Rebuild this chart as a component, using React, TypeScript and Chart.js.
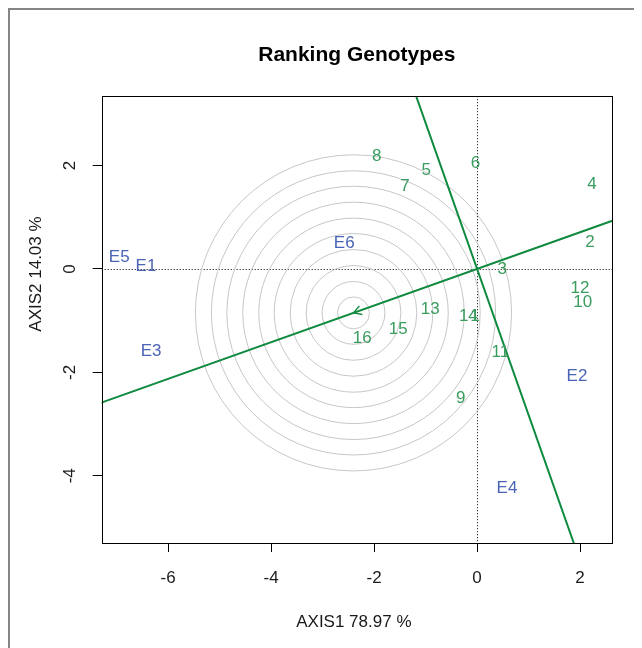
import React, { useEffect, useRef } from 'react';
import { Chart, registerables } from 'chart.js';

Chart.register(...registerables);

const FONT = '"Liberation Sans", Arial, Helvetica, sans-serif';

const chartTitle = 'Ranking Genotypes';
const xAxisTitle = 'AXIS1 78.97 %';
const yAxisTitle = 'AXIS2 14.03 %';

const xTicks = [-6, -4, -2, 0, 2];
const yTicks = [-4, -2, 0, 2];
const xLimits = [-7.29, 2.62];
const yLimits = [-5.3, 3.34];

const envLabels = ['E1', 'E2', 'E3', 'E4', 'E5', 'E6'];
const envX = [-6.43, 1.94, -6.33, 0.58, -6.95, -2.58];
const envY = [0.06, -2.08, -1.6, -4.24, 0.22, 0.49];

const genLabels = ['1', '2', '3', '4', '5', '6', '7', '8', '9', '10', '11', '12', '13', '14', '15', '16'];
const genX = [-0.04, 2.19, 0.49, 2.23, -0.99, -0.03, -1.4, -1.95, -0.32, 2.05, 0.45, 2.0, -0.91, -0.17, -1.53, -2.23];
const genY = [-0.92, 0.51, -0.01, 1.63, 1.9, 2.05, 1.6, 2.18, -2.5, -0.65, -1.62, -0.38, -0.79, -0.92, -1.16, -1.35];

// average environment coordinate (centre of the concentric rings)
const aeaPoint = [-2.4, -0.85];
const ringRadii = [0.31, 0.61, 0.92, 1.23, 1.54, 1.84, 2.15, 2.46, 2.76, 3.07];

const GREEN_LINE = '#0f8a3f';
const GREEN_TEXT = '#3a9c5e';
const BLUE_TEXT = '#4a64b6';
const RING = '#c6c6c6';

const biplotPlugin = {
  id: 'biplot',
  beforeDatasetsDraw(chart: any) {
    const { ctx, chartArea: a, scales } = chart;
    const x = scales.x;
    const y = scales.y;
    ctx.save();
    ctx.beginPath();
    ctx.rect(a.left, a.top, a.right - a.left, a.bottom - a.top);
    ctx.clip();

    // dotted reference axes
    ctx.strokeStyle = '#000';
    ctx.lineWidth = 1;
    ctx.setLineDash([1, 2]);
    const px0 = Math.round(x.getPixelForValue(0)) + 0.5;
    const py0 = Math.round(y.getPixelForValue(0)) + 0.5;
    ctx.beginPath();
    ctx.moveTo(a.left, py0);
    ctx.lineTo(a.right, py0);
    ctx.moveTo(px0, a.top);
    ctx.lineTo(px0, a.bottom);
    ctx.stroke();
    ctx.setLineDash([]);

    // concentric rings
    const cx = x.getPixelForValue(aeaPoint[0]);
    const cy = y.getPixelForValue(aeaPoint[1]);
    const ppu = Math.abs(x.getPixelForValue(1) - x.getPixelForValue(0));
    ctx.strokeStyle = RING;
    ctx.lineWidth = 1;
    ringRadii.forEach((r) => {
      ctx.beginPath();
      ctx.arc(cx, cy, r * ppu, 0, Math.PI * 2);
      ctx.stroke();
    });

    // average environment axis and its perpendicular, through the origin
    const [ax, ay] = aeaPoint;
    const T = 20;
    ctx.strokeStyle = GREEN_LINE;
    ctx.lineWidth = 2;
    ctx.beginPath();
    ctx.moveTo(x.getPixelForValue(-T * ax), y.getPixelForValue(-T * ay));
    ctx.lineTo(x.getPixelForValue(T * ax), y.getPixelForValue(T * ay));
    ctx.moveTo(x.getPixelForValue(-T * -ay), y.getPixelForValue(-T * ax));
    ctx.lineTo(x.getPixelForValue(T * -ay), y.getPixelForValue(T * ax));
    ctx.stroke();

    // arrow head at the average environment point
    const ox = x.getPixelForValue(0);
    const oy = y.getPixelForValue(0);
    const ang = Math.atan2(cy - oy, cx - ox);
    const hl = 9;
    const spread = Math.PI / 6;
    ctx.lineWidth = 1.3;
    ctx.beginPath();
    ctx.moveTo(cx - hl * Math.cos(ang - spread), cy - hl * Math.sin(ang - spread));
    ctx.lineTo(cx, cy);
    ctx.lineTo(cx - hl * Math.cos(ang + spread), cy - hl * Math.sin(ang + spread));
    ctx.stroke();
    ctx.restore();
  },
  afterDatasetsDraw(chart: any) {
    const { ctx } = chart;
    ctx.save();
    ctx.font = `17px ${FONT}`;
    ctx.textAlign = 'center';
    ctx.textBaseline = 'middle';
    chart.data.datasets.forEach((ds: any, di: number) => {
      const meta = chart.getDatasetMeta(di);
      ctx.fillStyle = ds.textColor;
      meta.data.forEach((el: any, i: number) => {
        ctx.fillText(ds.names[i], el.x, el.y);
      });
    });
    ctx.restore();
  },
  afterDraw(chart: any) {
    const { ctx, chartArea: a, scales, width, height } = chart;
    const y = scales.y;
    ctx.save();
    // outer frame (device border)
    ctx.fillStyle = '#858585';
    ctx.fillRect(0, 0, 2, height);
    ctx.fillRect(0, 0, width, 2);
    // plot box
    ctx.strokeStyle = '#000';
    ctx.lineWidth = 1;
    ctx.strokeRect(Math.round(a.left) + 0.5, Math.round(a.top) + 0.5, Math.round(a.right - a.left), Math.round(a.bottom - a.top));
    // y tick labels (rotated, R style)
    ctx.fillStyle = '#1a1a1a';
    ctx.font = `17px ${FONT}`;
    ctx.textAlign = 'center';
    ctx.textBaseline = 'middle';
    yTicks.forEach((v) => {
      const py = y.getPixelForValue(v);
      ctx.save();
      ctx.translate(a.left - 31, py);
      ctx.rotate(-Math.PI / 2);
      ctx.fillText(String(v), 0, 0);
      ctx.restore();
    });
    // axis titles
    ctx.fillText(xAxisTitle, (a.left + a.right) / 2 - 3, a.bottom + 79);
    ctx.save();
    ctx.translate(a.left - 65, a.top + (a.bottom - a.top) * 0.398);
    ctx.rotate(-Math.PI / 2);
    ctx.fillText(yAxisTitle, 0, 0);
    ctx.restore();
    ctx.restore();
  },
};

export default function App() {
  const canvasRef = useRef<HTMLCanvasElement | null>(null);

  useEffect(() => {
    if (!canvasRef.current) return;
    const chart = new Chart(canvasRef.current, {
      type: 'scatter',
      data: {
        datasets: [
          {
            label: 'Environments',
            data: envX.map((v, i) => ({ x: v, y: envY[i] })),
            pointRadius: 0,
            showLine: false,
            names: envLabels,
            textColor: BLUE_TEXT,
          } as any,
          {
            label: 'Genotypes',
            data: genX.map((v, i) => ({ x: v, y: genY[i] })),
            pointRadius: 0,
            showLine: false,
            names: genLabels,
            textColor: GREEN_TEXT,
          } as any,
        ],
      },
      options: {
        animation: false,
        responsive: true,
        maintainAspectRatio: false,
        layout: { padding: { left: 0, right: 30, top: 0, bottom: 0 } },
        plugins: {
          legend: { display: false },
          tooltip: { enabled: false },
          title: {
            display: true,
            text: chartTitle,
            fullSize: false,
            color: '#000',
            font: { family: FONT, size: 21, weight: 'bold', lineHeight: 1.2 },
            padding: { top: 35, bottom: 28 },
          },
        },
        scales: {
          x: {
            type: 'linear',
            min: xLimits[0],
            max: xLimits[1],
            afterBuildTicks: (s: any) => {
              s.ticks = xTicks.map((v) => ({ value: v }));
            },
            afterFit: (s: any) => {
              s.height = 105;
            },
            grid: { drawOnChartArea: false, drawTicks: true, tickLength: 9, color: '#000' },
            border: { display: false },
            ticks: {
              color: '#1a1a1a',
              font: { family: FONT, size: 17 },
              padding: 16,
              maxRotation: 0,
              minRotation: 0,
              callback: (v: any) => String(v),
            },
          },
          y: {
            type: 'linear',
            min: yLimits[0],
            max: yLimits[1],
            afterBuildTicks: (s: any) => {
              s.ticks = yTicks.map((v) => ({ value: v }));
            },
            afterFit: (s: any) => {
              s.width = 93.7;
            },
            grid: { drawOnChartArea: false, drawTicks: true, tickLength: 9, color: '#000' },
            border: { display: false },
            ticks: { display: false },
          },
        },
      } as any,
      plugins: [biplotPlugin],
    });
    return () => chart.destroy();
  }, []);

  return (
    <div style={{ width: 634, height: 640, position: 'relative', background: '#fff' }}>
      <canvas ref={canvasRef} />
    </div>
  );
}
